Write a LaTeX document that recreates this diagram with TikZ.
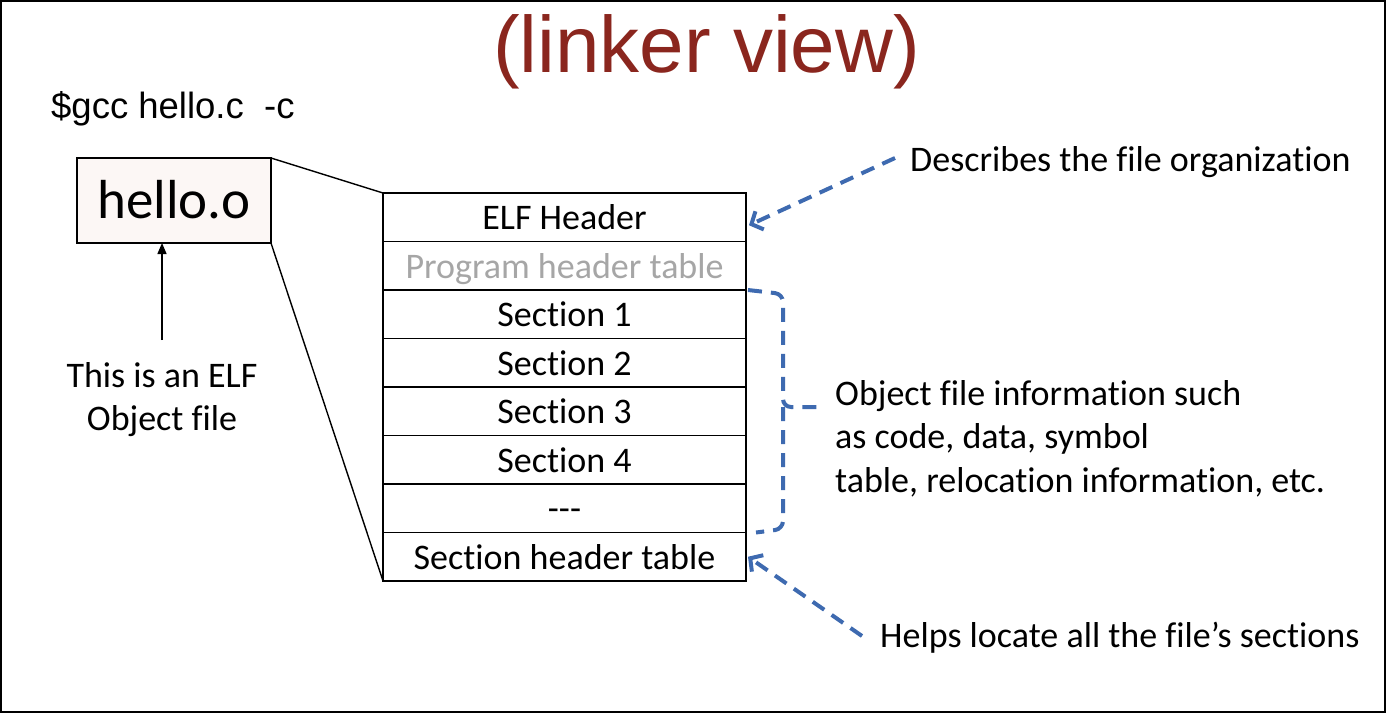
\documentclass[tikz,border=0pt]{standalone}
\usepackage{fontspec}
\setmainfont[Ligatures=NoCommon]{Carlito}
\newfontfamily\arialf{Liberation Sans}
\usetikzlibrary{arrows.meta}
\definecolor{titlered}{RGB}{138,38,30}
\definecolor{dblue}{RGB}{62,106,176}
\definecolor{boxpink}{RGB}{252,247,245}
\definecolor{phgray}{RGB}{166,166,166}
\begin{document}
\begin{tikzpicture}[x=1pt,y=-1pt,
  row/.style={draw, line width=1.3pt, minimum width=363pt, minimum height=48.5pt,
    inner sep=0pt, outer sep=0pt, text height=28pt, text depth=2.6pt,
    font=\fontsize{36}{40}\selectfont},
  bluedash/.style={draw=dblue, line width=4pt, dash pattern=on 14pt off 9pt},
  bluetip/.style={-{Straight Barb[length=9pt,width=20pt,line width=4pt]}},
  lbl/.style={font=\fontsize{36}{43.5}\selectfont, inner sep=0pt},
  thin/.style={line width=1.4pt}]
\useasboundingbox (0,0) rectangle (1386,713);
\draw[line width=2pt] (1,1) rectangle (1385,712);

\node[font=\arialf\fontsize{80}{90}\selectfont, text=titlered, anchor=base] (title) at (706.5,72) {(linker view)};
\node[font=\arialf\fontsize{36.5}{40}\selectfont, anchor=base west, inner sep=0pt] (cmd) at (51,118) {\$gcc hello.c\ \ -c};

\node[draw, fill=boxpink, line width=1.3pt, minimum width=194pt, minimum height=85pt,
  inner sep=0pt, outer sep=0pt, text height=38pt, text depth=3pt,
  font=\fontsize{55}{60}\selectfont] (hello) at (174,200.5) {hello.o};

\node[lbl, align=center, anchor=north] (elf) at (162,362) {This is an ELF\\Object file};
\coordinate (arrstart) at (162,340);
\draw[thin, -{Triangle[length=11pt,width=9pt]}] (arrstart) -- ([xshift=-12pt]hello.south);

\node[row] (r1) at (564.5,217.25) {ELF Header};
\node[row, text=phgray] (r2) at (564.5,265.75) {Program header table};
\node[row] (r3) at (564.5,314.25) {Section 1};
\node[row] (r4) at (564.5,362.75) {Section 2};
\node[row] (r5) at (564.5,411.25) {Section 3};
\node[row] (r6) at (564.5,459.75) {Section 4};
\node[row] (r7) at (564.5,508.25) {{-}{-}{-}};
\node[row] (r8) at (564.5,556.75) {Section header table};

\draw[thin] (hello.north east) -- (r1.north west);
\draw[thin] (hello.south east) -- (r8.south west);

\node[lbl, anchor=base west] (desc) at (910,171) {Describes the file organization};
\node[lbl, anchor=north west, align=left] (obj) at (835,380) {Object file information such\\as code, data, symbol\\table, relocation information, etc.};
\node[lbl, anchor=base west] (helps) at (880,647) {Helps locate all the file’s sections};

\coordinate (a1s) at (895,158);
\coordinate (a2s) at (862,636);
\draw[bluedash, bluetip] (a1s) -- ([xshift=3pt,yshift=-8pt]r1.east);
\draw[bluedash, bluetip] (a2s) -- ([xshift=2pt]r8.east);

\coordinate (bmid) at (822,407);
\coordinate (bcorner) at (783,407);
\draw[bluedash, rounded corners=8pt] ([xshift=2pt]r2.south east) -- (783,294) -- (bcorner) -- (bmid);
\draw[bluedash, rounded corners=8pt] (bcorner) -- (783,529) -- ([xshift=10pt]r7.south east);
\end{tikzpicture}
\end{document}
